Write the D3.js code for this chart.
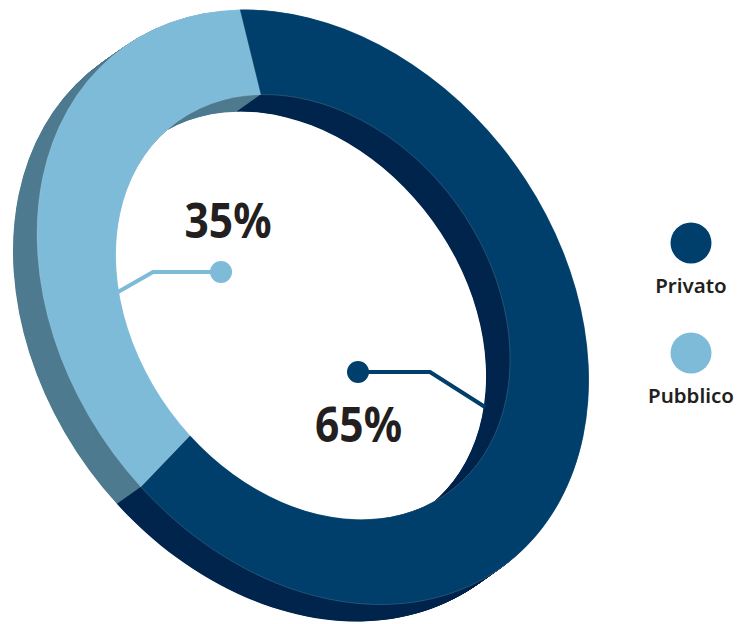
<!DOCTYPE html>
<html>
<head>
<meta charset="utf-8">
<script src="https://cdn.jsdelivr.net/npm/d3@7"></script>
<style>
html,body{margin:0;padding:0;background:#fff}
svg{display:block}
text{font-family:"Noto Sans",sans-serif;fill:#231f20}
</style>
</head>
<body>
<svg id="chart" width="737" height="624"></svg>
<script>
const categories = ["Privato", "Pubblico"];
const values = [65, 35];
const valueLabels = ["65%", "35%"];
const frontColors = ["#003f6b", "#7dbbd9"];
const wallColors = ["#00264d", "#4f7b90"];

const svg = d3.select("#chart");

// Projection of the flat ring into its tilted plane
const cx = 313, cy = 307;
const R = 100, r = 71.4;
const tilt = [2.76, 0.73, 0, 2.884];
const depth = [-24, 17];
const wallSteps = 48;
const startDeg = -15.4;

const pie = d3.pie().sort(null)
  .startAngle(startDeg*Math.PI/180)
  .endAngle((startDeg+360)*Math.PI/180);
const arcs = pie(values);
const arc = d3.arc().innerRadius(r).outerRadius(R);

const matrix = (ox, oy) => `matrix(${tilt.join(",")},${cx+ox},${cy+oy})`;

// Depth wall: swept copies from the back to the front
const wall = svg.append("g");
d3.range(wallSteps, 0, -1).forEach(i => {
  const t = i / wallSteps;
  wall.append("g")
    .attr("transform", matrix(depth[0]*t, depth[1]*t))
    .selectAll("path").data(arcs).join("path")
    .attr("d", arc)
    .attr("fill", (d,k) => wallColors[k]);
});

// Front face
svg.append("g").attr("transform", matrix(0,0))
  .selectAll("path").data(arcs).join("path")
  .attr("d", arc)
  .attr("fill", (d,k) => frontColors[k])
  .attr("stroke", "#ffffff")
  .attr("stroke-opacity", 0.3)
  .attr("stroke-width", 0.5)
  .attr("vector-effect", "non-scaling-stroke");

// Leader lines with a dot, and value labels
const leaderData = [
  {pts:[[358,372],[430,372],[485,407]], k:0, label:[358.5,442]},
  {pts:[[221,272],[153,272],[118,292]], k:1, label:[228,238]}
];
const line = d3.line();
leaderData.forEach(d => {
  svg.append("path").attr("d", line(d.pts))
    .attr("fill","none").attr("stroke",frontColors[d.k]).attr("stroke-width",4);
  svg.append("circle").attr("cx",d.pts[0][0]).attr("cy",d.pts[0][1]).attr("r",11)
    .attr("fill",frontColors[d.k]);
  svg.append("text").attr("x",d.label[0]).attr("y",d.label[1])
    .attr("text-anchor","middle")
    .attr("font-size",49).attr("font-weight",700)
    .attr("textLength",87).attr("lengthAdjust","spacingAndGlyphs")
    .text(valueLabels[d.k]);
});

// Legend
const legendY = d3.scalePoint().domain(categories).range([243,353]);
categories.forEach((c,k) => {
  svg.append("circle").attr("cx",691).attr("cy",legendY(c)).attr("r",20.5)
    .attr("fill",frontColors[k]);
  svg.append("text").attr("x",691).attr("y",legendY(c)+50)
    .attr("text-anchor","middle")
    .attr("font-size",20.5).attr("font-weight",600)
    .text(c);
});
</script>
</body>
</html>
